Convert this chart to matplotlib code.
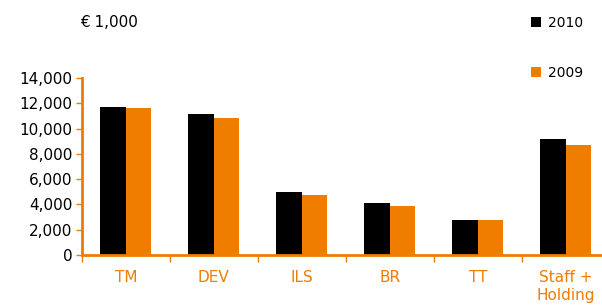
import matplotlib.pyplot as plt
import numpy as np

# data (in thousands of euro)
categorias = ["TM", "DEV", "ILS", "BR", "TT", "Staff +\nHolding"]
v2010 = [11700, 11150, 5000, 4100, 2780, 9200]
v2009 = [11600, 10850, 4750, 3900, 2780, 8700]

naranja = "#EF7D00"

fig = plt.figure(figsize=(6.02, 3.05), dpi=100)
ax = fig.add_axes([0.136, 0.164, 0.877, 0.58])

x = np.arange(len(categorias))
w = 0.29
b1 = ax.bar(x - w / 2, v2010, width=w, color="black", label="2010")
b2 = ax.bar(x + w / 2, v2009, width=w, color=naranja, label="2009")

ax.set_xlim(-0.5, len(categorias) - 0.5)
ax.set_ylim(0, 14000)
ax.set_yticks(np.arange(0, 14001, 2000))
ax.set_yticklabels([f"{v:,}" for v in range(0, 14001, 2000)], fontsize=11)

# ticks del eje x en los limites de cada grupo
ax.set_xticks(np.arange(-0.5, len(categorias), 1.0))
ax.set_xticklabels([])
ax.set_xticks(x, minor=True)
ax.set_xticklabels(categorias, minor=True, color=naranja, fontsize=11, linespacing=1.2)
ax.tick_params(axis="x", which="minor", length=0, pad=11)
ax.tick_params(axis="x", which="major", length=5, width=1, color=naranja)
ax.tick_params(axis="y", length=4, width=1, color=naranja, pad=3)

for s in ["top", "right"]:
    ax.spines[s].set_visible(False)
for s in ["left", "bottom"]:
    ax.spines[s].set_color(naranja)
    ax.spines[s].set_linewidth(2)

fig.text(0.133, 0.925, "€ 1,000", fontsize=11, va="center")

fig.legend(handles=[b1, b2], loc="upper left", bbox_to_anchor=(0.862, 0.99),
           frameon=False, fontsize=10, labelspacing=2.6, handlelength=0.7,
           handleheight=0.7, handletextpad=0.5)

plt.savefig("out.png")
